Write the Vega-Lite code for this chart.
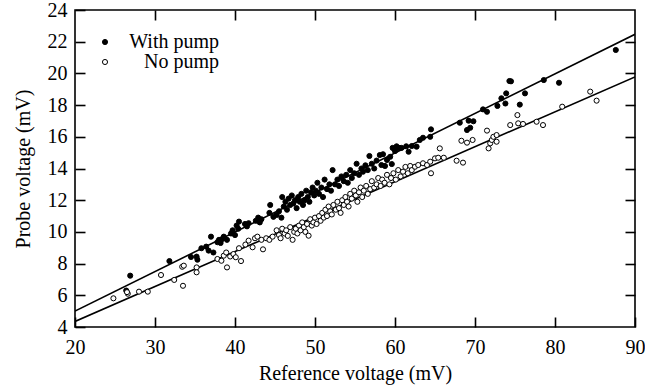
{
  "$schema": "https://vega.github.io/schema/vega-lite/v6.json",
  "width": 560,
  "height": 317,
  "autosize": {"type": "none"},
  "padding": {"left": 75, "top": 10, "right": 10, "bottom": 61},
  "config": {
    "font": "Liberation Serif",
    "view": {"stroke": "black", "strokeWidth": 1.6},
    "axis": {
      "domain": false,
      "grid": false,
      "tickColor": "black",
      "tickWidth": 1.6,
      "labelColor": "black",
      "titleColor": "black",
      "labelFont": "Liberation Serif",
      "titleFont": "Liberation Serif",
      "labelFontSize": 20,
      "titleFontSize": 20,
      "titleFontWeight": "normal"
    }
  },
  "datasets": {
    "fits": [
      {"series": "With pump", "ref": 20, "probe": 5.0},
      {"series": "With pump", "ref": 90, "probe": 22.47},
      {"series": "No pump", "ref": 20, "probe": 4.35},
      {"series": "No pump", "ref": 90, "probe": 19.78}
    ],
    "pts": [
      {"series": "With pump", "ref": 26.4, "probe": 6.3},
      {"series": "With pump", "ref": 26.9, "probe": 7.24},
      {"series": "With pump", "ref": 31.8, "probe": 8.16},
      {"series": "With pump", "ref": 34.5, "probe": 8.42},
      {"series": "With pump", "ref": 35.2, "probe": 8.44},
      {"series": "With pump", "ref": 35.3, "probe": 8.25},
      {"series": "With pump", "ref": 35.8, "probe": 8.97},
      {"series": "With pump", "ref": 36.4, "probe": 9.07},
      {"series": "With pump", "ref": 36.7, "probe": 8.82},
      {"series": "With pump", "ref": 37.0, "probe": 9.7},
      {"series": "With pump", "ref": 37.3, "probe": 8.7},
      {"series": "With pump", "ref": 37.8, "probe": 9.35},
      {"series": "With pump", "ref": 38.0, "probe": 9.5},
      {"series": "With pump", "ref": 38.2, "probe": 9.3},
      {"series": "With pump", "ref": 38.4, "probe": 9.55},
      {"series": "With pump", "ref": 38.6, "probe": 9.7},
      {"series": "With pump", "ref": 39.0, "probe": 9.5},
      {"series": "With pump", "ref": 39.5, "probe": 9.9},
      {"series": "With pump", "ref": 39.7, "probe": 10.1},
      {"series": "With pump", "ref": 40.0, "probe": 9.8},
      {"series": "With pump", "ref": 40.2, "probe": 10.4},
      {"series": "With pump", "ref": 40.4, "probe": 10.2},
      {"series": "With pump", "ref": 40.5, "probe": 10.65},
      {"series": "With pump", "ref": 41.25, "probe": 10.5},
      {"series": "With pump", "ref": 41.5, "probe": 10.35},
      {"series": "With pump", "ref": 41.7, "probe": 10.55},
      {"series": "With pump", "ref": 42.6, "probe": 10.7},
      {"series": "With pump", "ref": 42.9, "probe": 10.9},
      {"series": "With pump", "ref": 43.1, "probe": 10.6},
      {"series": "With pump", "ref": 43.3, "probe": 10.8},
      {"series": "With pump", "ref": 44.3, "probe": 11.2},
      {"series": "With pump", "ref": 44.4, "probe": 11.7},
      {"series": "With pump", "ref": 44.8, "probe": 10.95},
      {"series": "With pump", "ref": 45.2, "probe": 11.07},
      {"series": "With pump", "ref": 45.5, "probe": 11.3},
      {"series": "With pump", "ref": 45.8, "probe": 10.9},
      {"series": "With pump", "ref": 45.9, "probe": 12.2},
      {"series": "With pump", "ref": 46.1, "probe": 11.6},
      {"series": "With pump", "ref": 46.3, "probe": 11.9},
      {"series": "With pump", "ref": 46.5, "probe": 11.4},
      {"series": "With pump", "ref": 46.7, "probe": 12.1},
      {"series": "With pump", "ref": 46.9, "probe": 11.7},
      {"series": "With pump", "ref": 47.1, "probe": 12.3},
      {"series": "With pump", "ref": 47.3, "probe": 11.8},
      {"series": "With pump", "ref": 47.5, "probe": 12.0},
      {"series": "With pump", "ref": 47.7, "probe": 11.5},
      {"series": "With pump", "ref": 47.9, "probe": 12.2},
      {"series": "With pump", "ref": 48.1, "probe": 11.9},
      {"series": "With pump", "ref": 48.3, "probe": 12.4},
      {"series": "With pump", "ref": 48.5, "probe": 11.7},
      {"series": "With pump", "ref": 48.7, "probe": 12.0},
      {"series": "With pump", "ref": 48.9, "probe": 12.6},
      {"series": "With pump", "ref": 49.1, "probe": 12.2},
      {"series": "With pump", "ref": 49.3, "probe": 11.9},
      {"series": "With pump", "ref": 49.5, "probe": 12.5},
      {"series": "With pump", "ref": 49.7, "probe": 12.8},
      {"series": "With pump", "ref": 49.9, "probe": 12.3},
      {"series": "With pump", "ref": 50.1, "probe": 12.6},
      {"series": "With pump", "ref": 50.3, "probe": 13.1},
      {"series": "With pump", "ref": 50.5, "probe": 12.4},
      {"series": "With pump", "ref": 50.8, "probe": 12.8},
      {"series": "With pump", "ref": 51.0, "probe": 12.2},
      {"series": "With pump", "ref": 51.2, "probe": 13.3},
      {"series": "With pump", "ref": 51.5, "probe": 12.7},
      {"series": "With pump", "ref": 51.8, "probe": 13.0},
      {"series": "With pump", "ref": 52.0, "probe": 12.6},
      {"series": "With pump", "ref": 52.2, "probe": 13.9},
      {"series": "With pump", "ref": 52.5, "probe": 13.0},
      {"series": "With pump", "ref": 52.8, "probe": 13.3},
      {"series": "With pump", "ref": 53.0, "probe": 12.9},
      {"series": "With pump", "ref": 53.3, "probe": 13.5},
      {"series": "With pump", "ref": 53.6, "probe": 13.2},
      {"series": "With pump", "ref": 53.9, "probe": 13.6},
      {"series": "With pump", "ref": 54.1, "probe": 13.1},
      {"series": "With pump", "ref": 54.4, "probe": 13.9},
      {"series": "With pump", "ref": 54.6, "probe": 13.4},
      {"series": "With pump", "ref": 54.9, "probe": 13.7},
      {"series": "With pump", "ref": 55.2, "probe": 14.3},
      {"series": "With pump", "ref": 55.5, "probe": 13.6},
      {"series": "With pump", "ref": 55.8, "probe": 14.0},
      {"series": "With pump", "ref": 56.0, "probe": 13.8},
      {"series": "With pump", "ref": 56.3, "probe": 14.2},
      {"series": "With pump", "ref": 56.6, "probe": 13.9},
      {"series": "With pump", "ref": 56.8, "probe": 14.79},
      {"series": "With pump", "ref": 57.1, "probe": 14.3},
      {"series": "With pump", "ref": 57.4, "probe": 14.0},
      {"series": "With pump", "ref": 57.7, "probe": 14.5},
      {"series": "With pump", "ref": 58.1, "probe": 14.85},
      {"series": "With pump", "ref": 58.3, "probe": 14.22},
      {"series": "With pump", "ref": 58.5, "probe": 14.9},
      {"series": "With pump", "ref": 58.75, "probe": 14.16},
      {"series": "With pump", "ref": 59.0, "probe": 14.54},
      {"series": "With pump", "ref": 59.4, "probe": 14.74},
      {"series": "With pump", "ref": 59.6, "probe": 14.28},
      {"series": "With pump", "ref": 59.7, "probe": 15.3},
      {"series": "With pump", "ref": 60.0, "probe": 15.1},
      {"series": "With pump", "ref": 60.2, "probe": 15.4},
      {"series": "With pump", "ref": 60.5, "probe": 15.3},
      {"series": "With pump", "ref": 60.8, "probe": 15.3},
      {"series": "With pump", "ref": 61.4, "probe": 15.4},
      {"series": "With pump", "ref": 61.7, "probe": 15.06},
      {"series": "With pump", "ref": 62.1, "probe": 15.42},
      {"series": "With pump", "ref": 62.7, "probe": 15.38},
      {"series": "With pump", "ref": 63.1, "probe": 15.8},
      {"series": "With pump", "ref": 63.5, "probe": 15.94},
      {"series": "With pump", "ref": 64.4, "probe": 16.0},
      {"series": "With pump", "ref": 64.5, "probe": 16.47},
      {"series": "With pump", "ref": 68.1, "probe": 16.89},
      {"series": "With pump", "ref": 69.0, "probe": 16.43},
      {"series": "With pump", "ref": 69.2, "probe": 17.02},
      {"series": "With pump", "ref": 69.4, "probe": 16.57},
      {"series": "With pump", "ref": 69.8, "probe": 16.98},
      {"series": "With pump", "ref": 71.0, "probe": 17.73},
      {"series": "With pump", "ref": 71.5, "probe": 17.58},
      {"series": "With pump", "ref": 72.8, "probe": 17.95},
      {"series": "With pump", "ref": 73.3, "probe": 18.43},
      {"series": "With pump", "ref": 73.8, "probe": 18.1},
      {"series": "With pump", "ref": 73.9, "probe": 18.74},
      {"series": "With pump", "ref": 74.3, "probe": 19.52},
      {"series": "With pump", "ref": 74.5, "probe": 19.5},
      {"series": "With pump", "ref": 75.6, "probe": 18.03},
      {"series": "With pump", "ref": 76.25, "probe": 18.74},
      {"series": "With pump", "ref": 78.6, "probe": 19.58},
      {"series": "With pump", "ref": 80.5, "probe": 19.41},
      {"series": "With pump", "ref": 87.6, "probe": 21.48},
      {"series": "No pump", "ref": 24.8, "probe": 5.81},
      {"series": "No pump", "ref": 26.6, "probe": 6.1},
      {"series": "No pump", "ref": 26.5, "probe": 6.2},
      {"series": "No pump", "ref": 28.0, "probe": 6.23},
      {"series": "No pump", "ref": 29.1, "probe": 6.23},
      {"series": "No pump", "ref": 30.75, "probe": 7.28},
      {"series": "No pump", "ref": 32.4, "probe": 6.97},
      {"series": "No pump", "ref": 33.4, "probe": 7.8},
      {"series": "No pump", "ref": 33.6, "probe": 7.87},
      {"series": "No pump", "ref": 33.5, "probe": 6.6},
      {"series": "No pump", "ref": 35.2, "probe": 7.76},
      {"series": "No pump", "ref": 35.2, "probe": 7.45},
      {"series": "No pump", "ref": 37.8, "probe": 8.29},
      {"series": "No pump", "ref": 38.3, "probe": 8.18},
      {"series": "No pump", "ref": 38.6, "probe": 8.5},
      {"series": "No pump", "ref": 38.9, "probe": 8.7},
      {"series": "No pump", "ref": 39.0, "probe": 7.76},
      {"series": "No pump", "ref": 39.4, "probe": 8.45},
      {"series": "No pump", "ref": 39.8, "probe": 8.6},
      {"series": "No pump", "ref": 40.1, "probe": 8.4},
      {"series": "No pump", "ref": 40.5, "probe": 8.97},
      {"series": "No pump", "ref": 40.75, "probe": 8.16},
      {"series": "No pump", "ref": 41.3, "probe": 9.2},
      {"series": "No pump", "ref": 41.7, "probe": 9.45},
      {"series": "No pump", "ref": 42.2, "probe": 9.03},
      {"series": "No pump", "ref": 42.5, "probe": 9.6},
      {"series": "No pump", "ref": 42.8, "probe": 9.7},
      {"series": "No pump", "ref": 43.3, "probe": 9.5},
      {"series": "No pump", "ref": 43.5, "probe": 8.9},
      {"series": "No pump", "ref": 43.9, "probe": 9.6},
      {"series": "No pump", "ref": 44.3, "probe": 9.5},
      {"series": "No pump", "ref": 44.7, "probe": 9.7},
      {"series": "No pump", "ref": 45.2, "probe": 10.1},
      {"series": "No pump", "ref": 45.5, "probe": 9.8},
      {"series": "No pump", "ref": 45.7, "probe": 9.6},
      {"series": "No pump", "ref": 45.9, "probe": 10.2},
      {"series": "No pump", "ref": 46.2, "probe": 9.9},
      {"series": "No pump", "ref": 46.4, "probe": 10.1},
      {"series": "No pump", "ref": 46.6, "probe": 9.75},
      {"series": "No pump", "ref": 46.9, "probe": 10.3},
      {"series": "No pump", "ref": 47.2, "probe": 9.5},
      {"series": "No pump", "ref": 47.4, "probe": 10.0},
      {"series": "No pump", "ref": 47.6, "probe": 10.2},
      {"series": "No pump", "ref": 47.8, "probe": 9.9},
      {"series": "No pump", "ref": 48.0, "probe": 10.4},
      {"series": "No pump", "ref": 48.2, "probe": 10.1},
      {"series": "No pump", "ref": 48.4, "probe": 10.6},
      {"series": "No pump", "ref": 48.6, "probe": 10.3},
      {"series": "No pump", "ref": 48.8, "probe": 10.0},
      {"series": "No pump", "ref": 49.0, "probe": 10.5},
      {"series": "No pump", "ref": 49.2, "probe": 9.76},
      {"series": "No pump", "ref": 49.4, "probe": 10.8},
      {"series": "No pump", "ref": 49.6, "probe": 10.4},
      {"series": "No pump", "ref": 49.8, "probe": 10.6},
      {"series": "No pump", "ref": 50.0, "probe": 10.9},
      {"series": "No pump", "ref": 50.2, "probe": 10.5},
      {"series": "No pump", "ref": 50.5, "probe": 11.0},
      {"series": "No pump", "ref": 50.7, "probe": 10.7},
      {"series": "No pump", "ref": 50.9, "probe": 11.2},
      {"series": "No pump", "ref": 51.1, "probe": 10.9},
      {"series": "No pump", "ref": 51.3, "probe": 11.4},
      {"series": "No pump", "ref": 51.5, "probe": 11.0},
      {"series": "No pump", "ref": 51.7, "probe": 11.6},
      {"series": "No pump", "ref": 51.9, "probe": 11.3},
      {"series": "No pump", "ref": 52.1, "probe": 11.1},
      {"series": "No pump", "ref": 52.3, "probe": 11.7},
      {"series": "No pump", "ref": 52.6, "probe": 11.4},
      {"series": "No pump", "ref": 52.8, "probe": 11.9},
      {"series": "No pump", "ref": 53.0, "probe": 11.5},
      {"series": "No pump", "ref": 53.2, "probe": 11.2},
      {"series": "No pump", "ref": 53.4, "probe": 12.0},
      {"series": "No pump", "ref": 53.6, "probe": 11.7},
      {"series": "No pump", "ref": 53.8, "probe": 12.2},
      {"series": "No pump", "ref": 54.0, "probe": 11.9},
      {"series": "No pump", "ref": 54.2, "probe": 11.6},
      {"series": "No pump", "ref": 54.4, "probe": 12.4},
      {"series": "No pump", "ref": 54.6, "probe": 12.1},
      {"series": "No pump", "ref": 54.9, "probe": 12.6},
      {"series": "No pump", "ref": 55.1, "probe": 12.3},
      {"series": "No pump", "ref": 55.3, "probe": 11.9},
      {"series": "No pump", "ref": 55.5, "probe": 12.5},
      {"series": "No pump", "ref": 55.7, "probe": 12.8},
      {"series": "No pump", "ref": 55.9, "probe": 12.2},
      {"series": "No pump", "ref": 56.1, "probe": 12.6},
      {"series": "No pump", "ref": 56.4, "probe": 12.9},
      {"series": "No pump", "ref": 56.6, "probe": 12.4},
      {"series": "No pump", "ref": 56.9, "probe": 12.7},
      {"series": "No pump", "ref": 57.1, "probe": 13.2},
      {"series": "No pump", "ref": 57.4, "probe": 12.8},
      {"series": "No pump", "ref": 57.7, "probe": 13.0},
      {"series": "No pump", "ref": 57.9, "probe": 13.4},
      {"series": "No pump", "ref": 58.2, "probe": 12.9},
      {"series": "No pump", "ref": 58.4, "probe": 13.3},
      {"series": "No pump", "ref": 58.7, "probe": 13.1},
      {"series": "No pump", "ref": 59.0, "probe": 13.6},
      {"series": "No pump", "ref": 59.3, "probe": 13.0},
      {"series": "No pump", "ref": 59.5, "probe": 13.4},
      {"series": "No pump", "ref": 59.8, "probe": 13.7},
      {"series": "No pump", "ref": 60.1, "probe": 13.3},
      {"series": "No pump", "ref": 60.4, "probe": 13.9},
      {"series": "No pump", "ref": 60.7, "probe": 13.5},
      {"series": "No pump", "ref": 61.0, "probe": 13.8},
      {"series": "No pump", "ref": 61.3, "probe": 14.1},
      {"series": "No pump", "ref": 61.6, "probe": 13.7},
      {"series": "No pump", "ref": 61.9, "probe": 14.16},
      {"series": "No pump", "ref": 62.1, "probe": 13.9},
      {"series": "No pump", "ref": 62.5, "probe": 14.11},
      {"series": "No pump", "ref": 62.9, "probe": 14.22},
      {"series": "No pump", "ref": 63.5, "probe": 14.33},
      {"series": "No pump", "ref": 64.0, "probe": 14.22},
      {"series": "No pump", "ref": 64.4, "probe": 14.43},
      {"series": "No pump", "ref": 64.5, "probe": 13.7},
      {"series": "No pump", "ref": 65.0, "probe": 14.64},
      {"series": "No pump", "ref": 65.4, "probe": 14.68},
      {"series": "No pump", "ref": 65.6, "probe": 15.27},
      {"series": "No pump", "ref": 66.1, "probe": 14.68},
      {"series": "No pump", "ref": 67.7, "probe": 14.49},
      {"series": "No pump", "ref": 68.3, "probe": 15.75},
      {"series": "No pump", "ref": 68.5, "probe": 14.37},
      {"series": "No pump", "ref": 69.0, "probe": 15.63},
      {"series": "No pump", "ref": 69.7, "probe": 15.8},
      {"series": "No pump", "ref": 71.5, "probe": 16.39},
      {"series": "No pump", "ref": 71.7, "probe": 15.27},
      {"series": "No pump", "ref": 71.9, "probe": 15.59},
      {"series": "No pump", "ref": 72.1, "probe": 15.8},
      {"series": "No pump", "ref": 72.3, "probe": 16.0},
      {"series": "No pump", "ref": 72.7, "probe": 16.11},
      {"series": "No pump", "ref": 72.7, "probe": 15.69},
      {"series": "No pump", "ref": 74.4, "probe": 16.74},
      {"series": "No pump", "ref": 75.3, "probe": 17.37},
      {"series": "No pump", "ref": 75.4, "probe": 16.85},
      {"series": "No pump", "ref": 76.0, "probe": 16.81},
      {"series": "No pump", "ref": 77.7, "probe": 16.95},
      {"series": "No pump", "ref": 78.5, "probe": 16.74},
      {"series": "No pump", "ref": 80.9, "probe": 17.9},
      {"series": "No pump", "ref": 84.4, "probe": 18.85},
      {"series": "No pump", "ref": 85.2, "probe": 18.28}
    ]
  },
  "layer": [
    {
      "data": {"name": "fits"},
      "mark": {"type": "line", "color": "black", "strokeWidth": 1.6, "clip": true},
      "encoding": {
        "x": {"field": "ref", "type": "quantitative", "scale": {"domain": [20, 90], "nice": false},
          "axis": {"orient": "top", "labels": false, "title": null, "values": [30, 40, 50, 60, 70, 80], "tickSize": -10}},
        "y": {"field": "probe", "type": "quantitative", "scale": {"domain": [4, 24], "nice": false},
          "axis": {"orient": "right", "labels": false, "title": null, "values": [6, 8, 10, 12, 14, 16, 18, 20, 22], "tickSize": -10}},
        "detail": {"field": "series"}
      }
    },
    {
      "data": {"name": "pts"},
      "mark": {"type": "point", "filled": true, "stroke": "black", "strokeWidth": 1, "size": 26, "opacity": 1},
      "encoding": {
        "x": {"field": "ref", "type": "quantitative", "scale": {"domain": [20, 90], "nice": false},
          "axis": {"orient": "bottom", "title": "Reference voltage (mV)", "values": [20, 30, 40, 50, 60, 70, 80, 90], "tickSize": -10, "labelPadding": 20, "labelFlush": false, "titlePadding": 6}},
        "y": {"field": "probe", "type": "quantitative", "scale": {"domain": [4, 24], "nice": false},
          "axis": {"orient": "left", "title": "Probe voltage (mV)", "values": [4, 6, 8, 10, 12, 14, 16, 18, 20, 22, 24], "tickSize": -10, "labelPadding": 18, "titlePadding": 14}},
        "fill": {"field": "series", "type": "nominal",
          "scale": {"domain": ["With pump", "No pump"], "range": ["black", "white"]},
          "legend": {"title": null, "orient": "none", "legendX": 20, "legendY": 22, "labelAlign": "right", "labelOffset": 104,
            "labelFontSize": 20, "labelFont": "Liberation Serif", "labelColor": "black", "symbolSize": 26, "symbolType": "circle",
            "symbolStrokeColor": "black", "symbolStrokeWidth": 1, "rowPadding": -4, "labelLimit": 0}}
      }
    }
  ],
  "resolve": {"axis": {"x": "independent", "y": "independent"}}
}
